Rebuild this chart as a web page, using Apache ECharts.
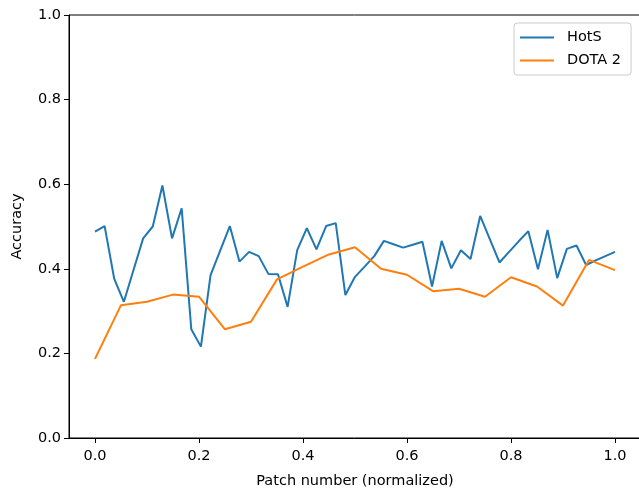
<!DOCTYPE html>
<html>
<head>
<meta charset="utf-8">
<script src="https://cdn.jsdelivr.net/npm/echarts@6/dist/echarts.min.js"></script>
<style>html,body{margin:0;padding:0;background:#fff;}#c{width:639px;height:491px;}</style>
</head>
<body>
<div id="c"></div>
<script>
const hotsValues = [0.488,0.501,0.376,0.322,0.397,0.472,0.500,0.597,0.472,0.543,0.257,0.216,0.385,0.443,0.501,0.417,0.440,0.430,0.388,0.387,0.310,0.444,0.496,0.446,0.501,0.508,0.338,0.381,0.405,0.430,0.466,0.458,0.450,0.457,0.464,0.358,0.466,0.401,0.444,0.423,0.525,0.470,0.415,0.440,0.465,0.489,0.399,0.492,0.378,0.447,0.455,0.409,0.420,0.430,0.440];
const dotaValues = [0.187,0.314,0.322,0.339,0.334,0.257,0.275,0.375,0.405,0.434,0.451,0.400,0.386,0.347,0.353,0.334,0.380,0.358,0.313,0.421,0.397];
const xTicks = [0.0,0.2,0.4,0.6,0.8,1.0];
const seriesNames = ['HotS','DOTA 2'];

const toPairs = arr => arr.map((v,i)=>[i/(arr.length-1), v]);
const font = 'DejaVu Sans';
const chart = echarts.init(document.getElementById('c'), null, {renderer:'canvas'});
chart.setOption({
  animation:false,
  backgroundColor:'#fff',
  grid:{left:69, top:15, width:572, height:423, containLabel:false, outerBoundsMode:'none', show:true, borderColor:'#000', borderWidth:1, backgroundColor:'transparent'},
  legend:{
    orient:'vertical', left:514, top:23,
    padding:[7,10,7,6],
    itemGap:8, itemWidth:34, itemHeight:16,
    backgroundColor:'#fff', borderColor:'#cccccc', borderWidth:1, borderRadius:3,
    textStyle:{fontFamily:font, fontSize:14.5, color:'#000', padding:[0,0,0,8]},
    data:[{name:seriesNames[0], icon:'path://M0,7 L34,7 L34,9 L0,9 Z'},{name:seriesNames[1], icon:'path://M0,7 L34,7 L34,9 L0,9 Z'}]
  },
  xAxis:{
    type:'value', min:-0.05, max:1.05,
    name:'Patch number (normalized)', nameLocation:'middle', nameGap:36,
    nameTextStyle:{fontFamily:font, fontSize:14.5, color:'#000'},
    axisLine:{show:true, onZero:false, lineStyle:{color:'#000', width:1}},
    axisTick:{show:true, length:5, customValues:xTicks, lineStyle:{color:'#000'}},
    axisLabel:{customValues:xTicks, fontFamily:font, fontSize:14.5, color:'#000', margin:11, formatter:v=>v.toFixed(1)},
    splitLine:{show:false}
  },
  yAxis:{
    type:'value', min:0, max:1, interval:0.2,
    name:'Accuracy', nameLocation:'middle', nameGap:44,
    nameTextStyle:{fontFamily:font, fontSize:14.5, color:'#000'},
    axisLine:{show:true, onZero:false, lineStyle:{color:'#000', width:1}},
    axisTick:{show:true, length:5, lineStyle:{color:'#000'}},
    axisLabel:{fontFamily:font, fontSize:14.5, color:'#000', margin:8, formatter:v=>v.toFixed(1)},
    splitLine:{show:false}
  },
  series:[
    {name:seriesNames[0], type:'line', data:toPairs(hotsValues), showSymbol:false, symbol:'none', color:'#1f77b4', lineStyle:{width:2, color:'#1f77b4'}},
    {name:seriesNames[1], type:'line', data:toPairs(dotaValues), showSymbol:false, symbol:'none', color:'#ff7f0e', lineStyle:{width:2, color:'#ff7f0e'}}
  ]
});
</script>
</body>
</html>
